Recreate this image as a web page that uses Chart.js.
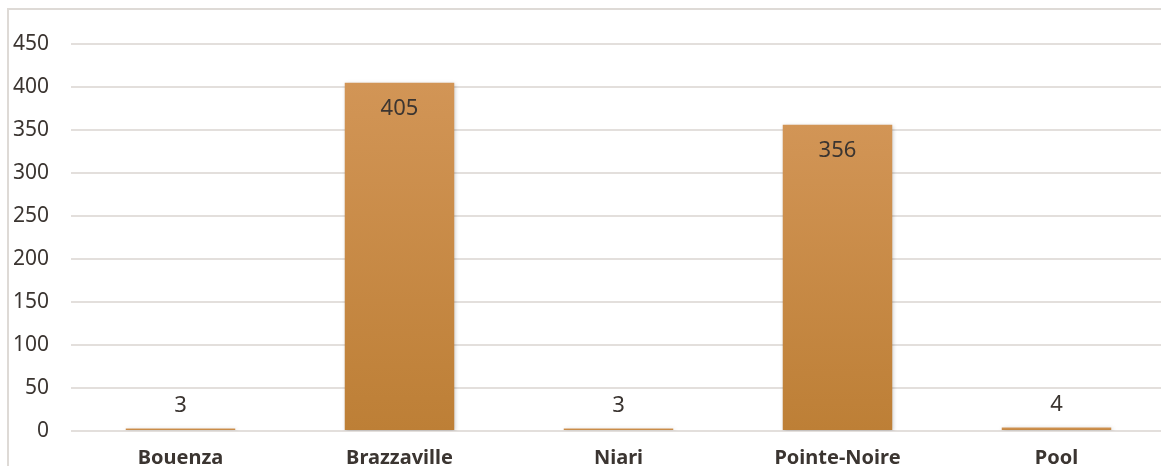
<!DOCTYPE html>
<html>
<head>
<meta charset="utf-8">
<script src="https://cdn.jsdelivr.net/npm/chart.js@4/dist/chart.umd.min.js"></script>
<style>
  html, body { margin: 0; padding: 0; background: #fff; overflow: hidden; }
  #wrap { position: relative; width: 1170px; height: 466px; }
</style>
</head>
<body>
<div id="wrap"><canvas id="chart"></canvas></div>
<script>
// Chart data
const regions = ['Bouenza', 'Brazzaville', 'Niari', 'Pointe-Noire', 'Pool'];
const counts = [3, 405, 3, 356, 4];
const yTicks = [0, 50, 100, 150, 200, 250, 300, 350, 400, 450];

const textColor = '#3b3531';
const gridColor = '#e3dfdc';

// gradient per bar, light at top, darker at base
function barGradient(ctx) {
  const chart = ctx.chart;
  const y = chart.scales.y;
  if (!y || ctx.type !== 'data') return '#c8893f';
  const top = y.getPixelForValue(ctx.raw);
  const base = y.getPixelForValue(0);
  if (!isFinite(top) || !isFinite(base)) return '#c8893f';
  if (base - top < 2) return '#d09352';
  const g = chart.ctx.createLinearGradient(0, top, 0, base);
  g.addColorStop(0, '#d29556');
  g.addColorStop(1, '#bd7f36');
  return g;
}

// frame lines on the top and left edges
const framePlugin = {
  id: 'frame',
  beforeDraw(chart) {
    const c = chart.ctx;
    c.save();
    c.strokeStyle = '#dedad6';
    c.lineWidth = 2;
    c.beginPath();
    c.moveTo(8, 480);
    c.lineTo(8, 9);
    c.lineTo(1170, 9);
    c.stroke();
    c.restore();
  }
};

// soft shadow under the bars
const shadowPlugin = {
  id: 'barShadow',
  beforeDatasetsDraw(chart) {
    const c = chart.ctx;
    c.save();
    c.shadowColor = 'rgba(0,0,0,0.22)';
    c.shadowBlur = 4;
    c.shadowOffsetX = 1;
    c.shadowOffsetY = 1;
  },
  afterDatasetsDraw(chart) {
    chart.ctx.restore();
  }
};

// value labels: inside top for tall bars, above for short ones
const valueLabels = {
  id: 'valueLabels',
  afterDatasetsDraw(chart) {
    const c = chart.ctx;
    const meta = chart.getDatasetMeta(0);
    c.save();
    c.font = '22px "Noto Sans"';
    c.fillStyle = textColor;
    c.textAlign = 'center';
    c.textBaseline = 'middle';
    meta.data.forEach((bar, i) => {
      const v = counts[i];
      const tall = bar.base - bar.y > 60;
      const y = tall ? bar.y + 26 : bar.y - 23;
      c.fillText(String(v), bar.x, y);
    });
    c.restore();
  }
};

new Chart('chart', {
  type: 'bar',
  data: {
    labels: regions,
    datasets: [{
      data: counts,
      backgroundColor: barGradient,
      borderWidth: 0,
      barPercentage: 1,
      categoryPercentage: 0.5
    }]
  },
  options: {
    responsive: true,
    maintainAspectRatio: false,
    animation: false,
    layout: { padding: { left: 10, right: 4, top: 44, bottom: 0 } },
    plugins: {
      legend: { display: false },
      tooltip: { enabled: false }
    },
    scales: {
      x: {
        grid: { display: false, drawTicks: false },
        border: { display: false },
        ticks: {
          color: textColor,
          padding: 15,
          font: { family: '"Noto Sans"', size: 20, weight: 'bold' }
        },
        afterFit: s => { s.height = 35; }
      },
      y: {
        min: 0,
        max: 450,
        afterBuildTicks: s => { s.ticks = yTicks.map(v => ({ value: v })); },
        grid: { color: gridColor, lineWidth: 2, drawTicks: false },
        border: { display: false },
        ticks: {
          color: textColor,
          padding: 22,
          font: { family: '"Noto Sans"', size: 21 }
        },
        afterFit: s => { s.width = 61; }
      }
    }
  },
  plugins: [framePlugin, shadowPlugin, valueLabels]
});
</script>
</body>
</html>
